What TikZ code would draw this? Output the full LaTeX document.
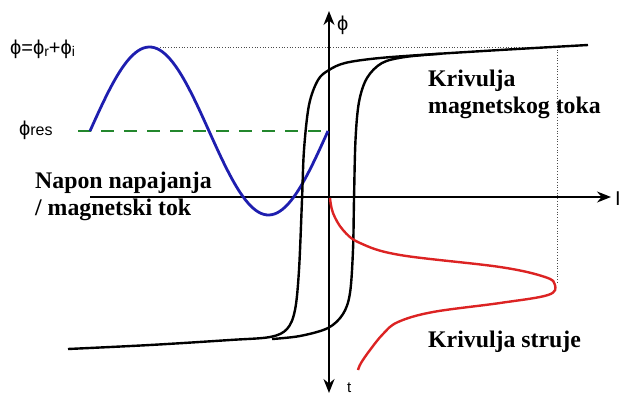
\documentclass[tikz,border=0pt]{standalone}
\usepackage{fontspec}
\setmainfont{Liberation Serif}
\newfontfamily\sansf{Liberation Sans}
\usetikzlibrary{arrows.meta}
\definecolor{sinblue}{RGB}{30,30,175}
\definecolor{curred}{RGB}{220,35,35}
\definecolor{resgreen}{RGB}{35,135,45}
\begin{document}
\begin{tikzpicture}[x=1pt,y=-1pt,
  axis/.style={line width=1.9pt,-{Stealth[length=14pt,width=11pt]}},
  loop/.style={line width=2.4pt,black,line join=round},
  guide/.style={line width=0.7pt,black!70,dotted},
  lbl/.style={font=\fontsize{23.8}{26.5}\selectfont\bfseries,anchor=base west,inner sep=0pt,align=left},
  slbl/.style={font=\sansf\fontsize{20}{22}\selectfont,anchor=base west,inner sep=0pt}]
\useasboundingbox (0,0) rectangle (622,394);
% axes
\coordinate (origin) at (329,197);
\coordinate (ytop) at (329,11);
\coordinate (ybot) at (329,393);
\coordinate (xleft) at (90,197);
\coordinate (xright) at (611,197);
\draw[axis] (origin) -- (ytop);
\draw[axis] (origin) -- (ybot);
\draw[line width=1.5pt,-{Stealth[length=14pt,width=11pt]}] (xleft) -- (xright);
% guides
\coordinate (g1) at (160,47);
\coordinate (g2) at (557,47);
\coordinate (g3) at (557,283);
\draw[guide] (g1) -- (g2) -- (g3);
% green dashed
\coordinate (r1) at (78,131);
\coordinate (r2) at (326,131);
\draw[resgreen,line width=2.8pt,dash pattern=on 13pt off 10pt] (r1) -- (r2);
% blue sine
\draw[sinblue,line width=2.8pt] plot[domain=90:328,samples=90] (\x,{131-84*sin(1.5126*(\x-90))});
% hysteresis loop
\draw[loop] plot[smooth,tension=0.55] coordinates {(68,349) (150,345) (230,340) (270,337) (287,329) (295,310) (299,270) (302,200) (304,150) (309,105) (318,80) (329,70) (345,63) (375,58.5) (420,55) (500,50) (588,45)};
\draw[loop] plot[smooth,tension=0.55] coordinates {(440,53.8) (405,57) (382,63) (367,78) (359,102) (355.5,140) (354,200) (353,250) (350,293) (343,314) (328,328) (300,336) (272,339)};
% current curve
\draw[curred,line width=2.4pt,line join=round] plot[smooth,tension=0.6] coordinates {(330,198) (333,213) (343,230) (360,243) (400,255) (500,267) (545,277) (555,285) (548,295) (500,303) (433,312) (398,322) (383,334) (370,350) (361,363) (358,370)};
% labels
\node[slbl] (phisum) at (10,54) {ϕ=ϕ\raisebox{-2.5pt}{\fontsize{14}{14}\selectfont r}+ϕ\raisebox{-2.5pt}{\fontsize{14}{14}\selectfont i}};
\node[slbl] (phires) at (19,135) {ϕ\fontsize{16}{16}\selectfont res};
\node[slbl] (phiax) at (337,30) {ϕ};
\node[slbl,font=\sansf\fontsize{15}{15}\selectfont] (tax) at (347,392) {t};
\node[slbl] (iax) at (615,205) {I};
\node[lbl] (flux) at (428,113) {Krivulja\\magnetskog toka};
\node[lbl] (napon) at (35,215) {Napon napajanja\\/ magnetski tok};
\node[lbl] (struja) at (428,347) {Krivulja struje};
\end{tikzpicture}
\end{document}
